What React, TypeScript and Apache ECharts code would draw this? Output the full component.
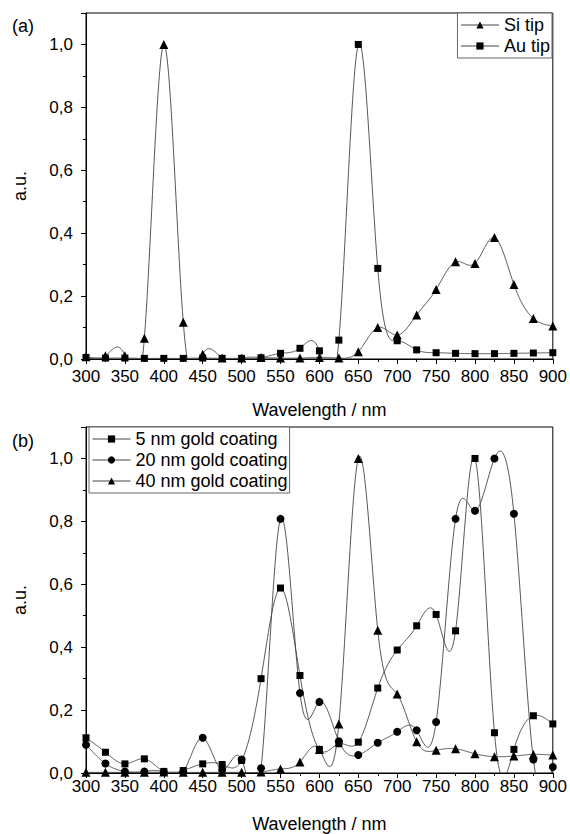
import React, { useEffect, useRef } from 'react';
import * as echarts from 'echarts';

const wavelengths = [300, 325, 350, 375, 400, 425, 450, 475, 500, 525, 550, 575, 600, 625, 650, 675, 700, 725, 750, 775, 800, 825, 850, 875, 900];

// panel (a)
const siTip = [0.007, 0.01, 0.01, 0.066, 1.0, 0.117, 0.015, 0.003, 0.003, 0.005, 0.003, 0.003, 0.005, 0.003, 0.023, 0.1, 0.076, 0.14, 0.221, 0.309, 0.304, 0.386, 0.237, 0.129, 0.105];
const auTip = [0.005, 0.003, 0.003, 0.002, 0.002, 0.002, 0.003, 0.002, 0.002, 0.004, 0.018, 0.034, 0.026, 0.06, 1.0, 0.288, 0.058, 0.029, 0.02, 0.018, 0.017, 0.017, 0.018, 0.019, 0.02];

// panel (b)
const gold5nm = [0.112, 0.066, 0.029, 0.045, 0.005, 0.008, 0.029, 0.027, 0.04, 0.3, 0.588, 0.31, 0.075, 0.093, 0.098, 0.27, 0.391, 0.468, 0.504, 0.452, 1.0, 0.128, 0.075, 0.182, 0.156];
const gold20nm = [0.09, 0.03, 0.005, 0.005, 0.003, 0.003, 0.112, 0.01, 0.043, 0.015, 0.808, 0.254, 0.226, 0.101, 0.057, 0.096, 0.131, 0.136, 0.162, 0.808, 0.834, 1.0, 0.824, 0.043, 0.019];
const gold40nm = [0.002, 0.002, 0.002, 0.002, 0.003, 0.002, 0.002, 0.002, 0.002, 0.003, 0.013, 0.035, 0.075, 0.156, 1.0, 0.454, 0.251, 0.099, 0.072, 0.077, 0.061, 0.052, 0.054, 0.059, 0.057];

const FONT = "'Liberation Sans', Arial, sans-serif";
const FS = 17;
const FS_NAME = 18;
const LINE_COLOR = '#444';

function splineM(ys: number[]): number[] {
  const n = ys.length;
  const M = new Array(n).fill(0);
  const m = n - 2;
  const c = new Array(m).fill(0);
  const d = new Array(m).fill(0);
  for (let k = 0; k < m; k++) {
    const i = k + 1;
    const rhs = 6 * (ys[i + 1] - 2 * ys[i] + ys[i - 1]);
    if (k === 0) {
      c[k] = 1 / 4;
      d[k] = rhs / 4;
    } else {
      const den = 4 - c[k - 1];
      c[k] = 1 / den;
      d[k] = (rhs - d[k - 1]) / den;
    }
  }
  for (let k = m - 1; k >= 0; k--) {
    M[k + 1] = d[k] - (k < m - 1 ? c[k] * M[k + 2] : 0);
  }
  return M;
}

function splineSeries(name: string, ys: number[], axisIndex: number) {
  const M = splineM(ys);
  return {
    type: 'custom',
    name,
    xAxisIndex: axisIndex,
    yAxisIndex: axisIndex,
    clip: true,
    silent: true,
    z: 2,
    data: wavelengths.map((x, i) => [x, ys[i]]),
    encode: { x: 0, y: 1 },
    renderItem: (params: any, api: any) => {
      const i = params.dataIndex;
      if (i >= ys.length - 1) return null;
      const x0 = wavelengths[i];
      const x1 = wavelengths[i + 1];
      const pts: number[][] = [];
      const steps = 24;
      for (let s = 0; s <= steps; s++) {
        const t = s / steps;
        const v =
          (M[i] * Math.pow(1 - t, 3)) / 6 +
          (M[i + 1] * Math.pow(t, 3)) / 6 +
          (ys[i] - M[i] / 6) * (1 - t) +
          (ys[i + 1] - M[i + 1] / 6) * t;
        pts.push(api.coord([x0 + (x1 - x0) * t, v]));
      }
      return {
        type: 'polyline',
        shape: { points: pts },
        style: { stroke: LINE_COLOR, lineWidth: 0.9, fill: 'none' },
      };
    },
  };
}

function markerSeries(name: string, ys: number[], axisIndex: number, symbol: string, size: number) {
  return {
    type: 'line',
    name,
    xAxisIndex: axisIndex,
    yAxisIndex: axisIndex,
    data: wavelengths.map((x, i) => [x, ys[i]]),
    symbol,
    symbolSize: size,
    showAllSymbol: true,
    itemStyle: { color: '#000' },
    lineStyle: { width: 0, opacity: 0 },
    z: 3,
    silent: true,
  };
}

function xAxisOpt(gridIndex: number, labelMargin: number) {
  return {
    type: 'value',
    gridIndex,
    min: 300,
    max: 900,
    interval: 50,
    name: 'Wavelength / nm',
    nameLocation: 'middle',
    nameGap: 42,
    nameTextStyle: { fontFamily: FONT, fontSize: FS_NAME, color: '#000' },
    axisLine: { show: true, lineStyle: { color: '#000', width: 1 } },
    axisTick: { show: true, inside: false, length: 5, lineStyle: { color: '#000' } },
    minorTick: { show: true, splitNumber: 2, length: 3, lineStyle: { color: '#000' } },
    splitLine: { show: false },
    axisLabel: { fontFamily: FONT, fontSize: FS, color: '#000', margin: labelMargin },
  };
}

function yAxisOpt(gridIndex: number) {
  return {
    type: 'value',
    gridIndex,
    min: 0,
    max: 1.1,
    interval: 0.2,
    name: 'a.u.',
    nameLocation: 'middle',
    nameGap: 57,
    nameTextStyle: { fontFamily: FONT, fontSize: FS_NAME, color: '#000' },
    axisLine: { show: true, lineStyle: { color: '#000', width: 1 } },
    axisTick: { show: true, inside: false, length: 5, lineStyle: { color: '#000' } },
    minorTick: { show: true, splitNumber: 2, length: 3, lineStyle: { color: '#000' } },
    splitLine: { show: false },
    axisLabel: {
      fontFamily: FONT,
      fontSize: FS,
      color: '#000',
      margin: 13,
      showMaxLabel: false,
      formatter: (v: number) => (v > 1.05 ? '' : v.toFixed(1).replace('.', ',')),
    },
  };
}

function legendOpt(names: string[], pos: any) {
  return {
    data: names,
    orient: 'vertical',
    ...pos,
    padding: [3, 2, 3, 3],
    itemGap: 3,
    itemWidth: 38,
    itemHeight: 9,
    backgroundColor: '#fff',
    borderColor: '#666',
    borderWidth: 1,
    borderRadius: 0,
    selectedMode: false,
    lineStyle: { width: 1, color: LINE_COLOR, opacity: 1, type: 'solid' },
    itemStyle: { color: '#000', opacity: 1 },
    textStyle: { fontFamily: FONT, fontSize: FS_NAME, color: '#000' },
  };
}

export default function App() {
  const ref = useRef<HTMLDivElement>(null);

  useEffect(() => {
    if (!ref.current) return;
    const chart = echarts.init(ref.current, undefined, { renderer: 'svg' });
    const option: any = {
      animation: false,
      backgroundColor: '#fff',
      textStyle: { fontFamily: FONT },
      grid: [
        { left: 86, top: 13, width: 467, height: 346, show: true, borderColor: '#000', borderWidth: 1, backgroundColor: 'transparent' },
        { left: 86, top: 427, width: 467, height: 348, show: true, borderColor: '#000', borderWidth: 1, backgroundColor: 'transparent' },
      ],
      xAxis: [xAxisOpt(0, 9), xAxisOpt(1, 5)],
      yAxis: [yAxisOpt(0), yAxisOpt(1)],
      legend: [
        legendOpt(['Si tip', 'Au tip'], { right: 18, top: 13 }),
        legendOpt(['5 nm gold coating', '20 nm gold coating', '40 nm gold coating'], { left: 89, top: 427 }),
      ],
      graphic: [
        { type: 'text', left: 12, top: 17, style: { text: '(a)', fontFamily: FONT, fontSize: FS_NAME, fill: '#000' } },
        { type: 'text', left: 12, top: 432, style: { text: '(b)', fontFamily: FONT, fontSize: FS_NAME, fill: '#000' } },
      ],
      series: [
        splineSeries('Si tip curve', siTip, 0),
        splineSeries('Au tip curve', auTip, 0),
        markerSeries('Si tip', siTip, 0, 'triangle', 9),
        markerSeries('Au tip', auTip, 0, 'rect', 7),
        splineSeries('5 nm curve', gold5nm, 1),
        splineSeries('20 nm curve', gold20nm, 1),
        splineSeries('40 nm curve', gold40nm, 1),
        markerSeries('5 nm gold coating', gold5nm, 1, 'rect', 7),
        markerSeries('20 nm gold coating', gold20nm, 1, 'circle', 8),
        markerSeries('40 nm gold coating', gold40nm, 1, 'triangle', 9),
      ],
    };
    chart.setOption(option);
    return () => chart.dispose();
  }, []);

  return (
    <div
      ref={ref}
      style={{ position: 'fixed', left: 0, top: 0, width: 570, height: 834, background: '#fff' }}
    />
  );
}
